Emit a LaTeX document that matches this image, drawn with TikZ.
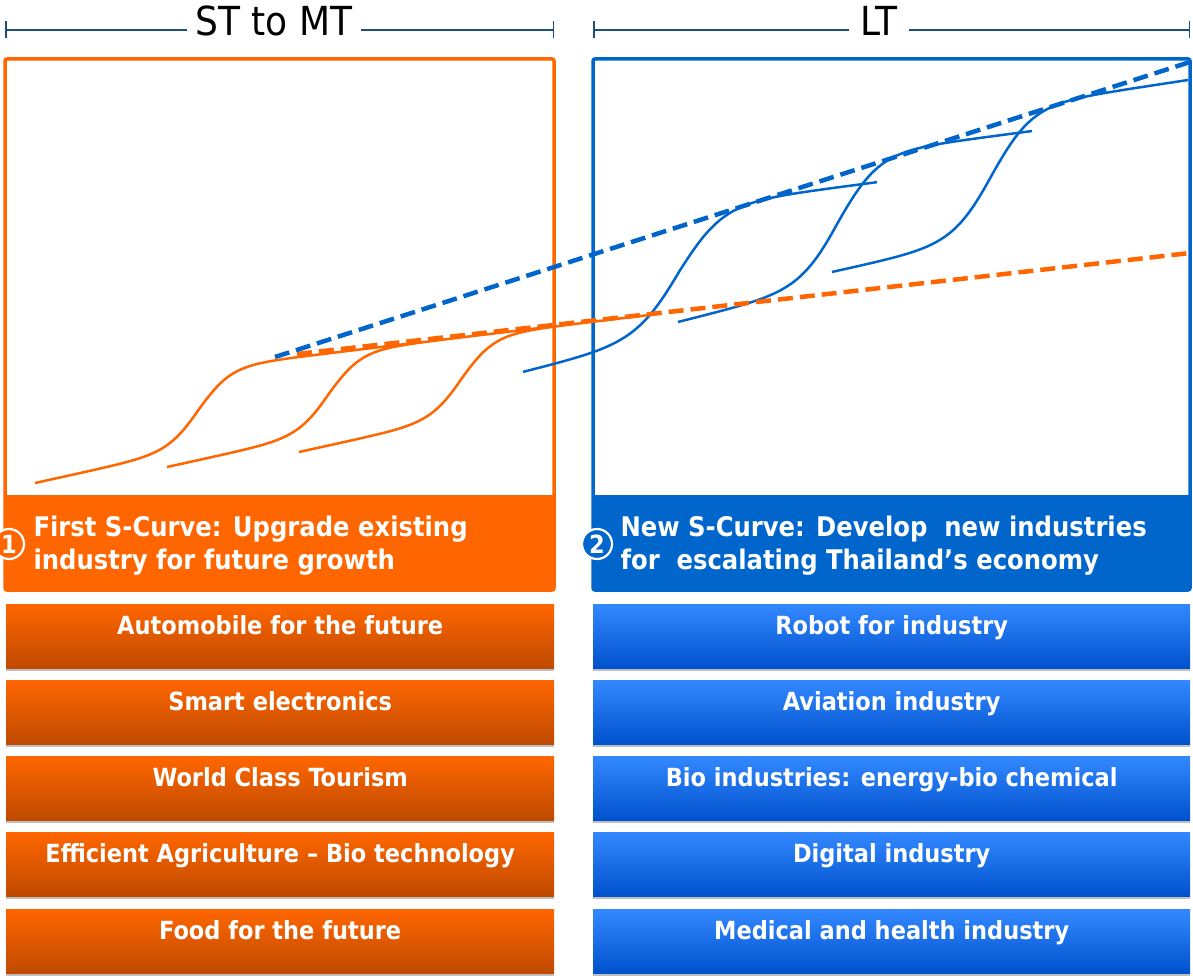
\documentclass[tikz,border=0pt]{standalone}
\usepackage{fontspec}
\setmainfont{DejaVu Sans Condensed}
\usetikzlibrary{shadows,arrows.meta}
\definecolor{ora}{HTML}{FF6600}
\definecolor{oradark}{HTML}{BF4A00}
\definecolor{blu}{HTML}{0066CC}
\definecolor{blulight}{HTML}{3388FF}
\definecolor{bludark}{HTML}{0052CC}
\definecolor{span}{HTML}{1F4E79}
\begin{document}
\begin{tikzpicture}[x=1pt,y=-1pt,
    declare function={sig(\t)=1/(1+exp(max(-9,min(9,-\t))));},
    spanline/.style={span,line width=1.5pt,{Bar[width=17pt]}-{Bar[width=17pt]}},
    spantext/.style={fill=white,inner xsep=9pt,inner ysep=2pt,font=\fontsize{40}{42}\selectfont},
    frame/.style={line width=3.5pt,rounded corners=2pt},
    head/.style={text=white,anchor=west,align=left,font=\fontsize{27}{33}\selectfont\bfseries},
    num/.style={circle,draw=white,line width=2.2pt,text=white,minimum size=30pt,inner sep=0pt,font=\fontsize{25}{25}\selectfont\bfseries},
    bar/.style={anchor=north west,minimum height=64pt,inner ysep=0pt,text height=30pt,text depth=34pt,
        text=white,font=\fontsize{25}{29}\selectfont\bfseries,
        drop shadow={shadow xshift=0pt,shadow yshift=-3pt,opacity=.25,fill=black}},
    orabar/.style={bar,minimum width=548pt,top color=ora,middle color=ora!92!black,bottom color=oradark},
    blubar/.style={bar,minimum width=597pt,top color=blulight,middle color=blulight!80!bludark,bottom color=bludark},
    scurve/.style={line width=2.5pt,samples=100,smooth},
    trend/.style={line width=4.5pt,dash pattern=on 15pt off 7pt}]
\useasboundingbox (0,0) rectangle (1193,976);

% time spans
\coordinate (s1a) at (5,30);
\coordinate (s1b) at (554,30);
\coordinate (s2a) at (593,30);
\coordinate (s2b) at (1190,30);
\draw[spanline] (s1a) -- (s1b);
\draw[spanline] (s2a) -- (s2b);
\node[spantext] (st) at (274,21) {ST to MT};
\node[spantext,inner xsep=12pt] (lt) at (879,21) {LT};

% frames
\fill[ora,rounded corners=2pt] (5,495) rectangle (554,590);
\fill[blu,rounded corners=2pt] (593,495) rectangle (1190,590);
\draw[frame,ora] (5,59) rectangle (554,590);
\draw[frame,blu] (593,59) rectangle (1190,590);

% s-curves, first
\draw[scurve,ora] plot[domain=35:420] (\x,{483-0.22*(min(\x,200)-35)-0.12*max(0,\x-200)-78*sig((\x-200)/16)});
\draw[scurve,ora] plot[domain=167:540] (\x,{467-0.22*(min(\x,330)-167)-0.12*max(0,\x-330)-78*sig((\x-330)/16)});
\draw[scurve,ora] plot[domain=299:657] (\x,{452-0.22*(min(\x,463)-299)-0.12*max(0,\x-463)-78.6*sig((\x-463)/16)});

% s-curves, new
\draw[scurve,blu] plot[domain=523:877] (\x,{372-0.25*(min(\x,680)-523)-0.13*max(0,\x-680)-125*sig((\x-680)/22)});
\draw[scurve,blu] plot[domain=678:1032] (\x,{322-0.25*(min(\x,840)-678)-0.13*max(0,\x-840)-125.5*sig((\x-840)/20)});
\draw[scurve,blu] plot[domain=832:1188] (\x,{272-0.22*(min(\x,993)-832)-0.15*max(0,\x-993)-127.3*sig((\x-993)/20)});

% trend lines
\coordinate (t1a) at (297,354);
\coordinate (t1b) at (1190,253);
\coordinate (t2a) at (275,357);
\coordinate (t2b) at (1190,62);
\draw[trend,ora] (t1a) -- (t1b);
\draw[trend,blu] (t2a) -- (t2b);

% headers
\node[num,fill=ora] (n1) at (9,544) {1};
\node[head] (h1) at (30,546) {First S-Curve: Upgrade existing\\industry for future growth};
\node[num,fill=blu] (n2) at (597,544) {2};
\node[head] (h2) at (617,546) {New S-Curve: Develop\ \ new industries\\for\ \ escalating Thailand’s economy};

% first s-curve industries
\node[orabar] (o1) at (6,604) {Automobile for the future};
\node[orabar] (o2) at (6,680) {Smart electronics};
\node[orabar] (o3) at (6,756) {World Class Tourism};
\node[orabar] (o4) at (6,832) {Efficient Agriculture -- Bio technology};
\node[orabar] (o5) at (6,909) {Food for the future};

% new s-curve industries
\node[blubar] (b1) at (593,604) {Robot for industry};
\node[blubar] (b2) at (593,680) {Aviation industry};
\node[blubar] (b3) at (593,756) {Bio industries: energy-bio chemical};
\node[blubar] (b4) at (593,832) {Digital industry};
\node[blubar] (b5) at (593,909) {Medical and health industry};
\end{tikzpicture}
\end{document}
